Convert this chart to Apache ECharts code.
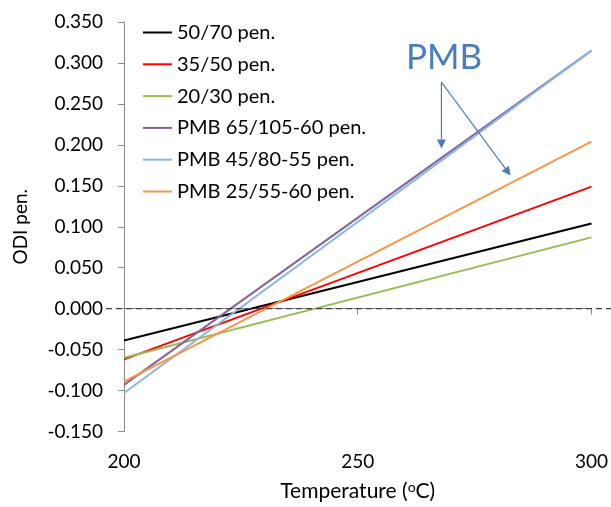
<!DOCTYPE html>
<html><head><meta charset="utf-8">
<script src="https://cdn.jsdelivr.net/npm/echarts@6/dist/echarts.min.js"></script>
<style>html,body{margin:0;padding:0;background:#fff}#c{width:611px;height:507px}</style>
</head><body><div id="c"></div>
<script>
// Data
const temps = [200, 300];
const seriesNames = ['50/70 pen.', '35/50 pen.', '20/30 pen.', 'PMB 65/105-60 pen.', 'PMB 45/80-55 pen.', 'PMB 25/55-60 pen.'];
const v5070 = [-0.039, 0.104];
const v3550 = [-0.062, 0.149];
const v2030 = [-0.060, 0.087];
const vPmb65 = [-0.093, 0.315];
const vPmb45 = [-0.103, 0.315];
const vPmb25 = [-0.089, 0.204];
const colors = ['#000000', '#ff0000', '#9bbb59', '#8064a2', '#8db4e2', '#f79646'];
const yTicks = { min: -0.15, max: 0.35, step: 0.05 };
const xTicks = { min: 200, max: 300, step: 50 };
// annotation anchor (data coords): arrow start and two tips
const arrowStart = [267.9, 0.2765];
const arrowTips = [[267.9, 0.1955], [282.7, 0.1625]];
const pmbLabelPos = [260.3, 0.328];

const FONT = 'Lato';
const allVals = [v5070, v3550, v2030, vPmb65, vPmb45, vPmb25];

const chart = echarts.init(document.getElementById('c'), null, {renderer: 'canvas'});
const axisGray = '#898989';
const option = {
  animation: false,
  color: colors,
  grid: { left: 124, right: 19, top: 22, bottom: 69, containLabel: false },
  legend: {
    orient: 'vertical', left: 138, top: 17.5,
    icon: 'rect', itemWidth: 29, itemHeight: 2, itemGap: 11.8,
    textStyle: { fontFamily: FONT, fontSize: 20, lineHeight: 20, color: '#000' },
    data: seriesNames
  },
  xAxis: {
    type: 'value', min: xTicks.min, max: xTicks.max, interval: xTicks.step,
    name: 'Temperature ({sup|o}C)', nameLocation: 'middle', nameGap: 49,
    nameTextStyle: { fontFamily: FONT, fontSize: 21, color: '#000',
      rich: { sup: { fontFamily: FONT, fontSize: 14, verticalAlign: 'top', padding: [0,0,8,0], color:'#000' } } },
    axisLine: { lineStyle: { color: axisGray } },
    axisTick: { show: true, inside: false, length: 6, lineStyle: { color: axisGray } },
    axisLabel: { fontFamily: FONT, fontSize: 19, color: '#000', margin: 21 },
    splitLine: { show: false }
  },
  yAxis: {
    type: 'value', min: yTicks.min, max: yTicks.max, interval: yTicks.step,
    name: 'ODI pen.', nameLocation: 'middle', nameGap: 94, nameRotate: 90,
    nameTextStyle: { fontFamily: FONT, fontSize: 19, color: '#000' },
    axisLine: { show: true, lineStyle: { color: axisGray } },
    axisTick: { show: true, inside: false, length: 6, lineStyle: { color: axisGray } },
    axisLabel: { fontFamily: FONT, fontSize: 19, color: '#000', margin: 21,
      formatter: v => v.toFixed(3) },
    splitLine: { show: false }
  },
  series: seriesNames.map((n, i) => ({
    name: n, type: 'line', symbol: 'none', showSymbol: false,
    lineStyle: { width: 2, color: colors[i] }, itemStyle: { color: colors[i] },
    data: temps.map((t, j) => [t, allVals[i][j]]), z: 3 + i
  }))
};
chart.setOption(option);

function px(p) { return chart.convertToPixel({gridIndex: 0}, p); }
const zeroY = px([200, 0])[1];
const arrowColor = '#4a7ebb';
const s = px(arrowStart);
const graphics = [
  { type: 'line', z: 20, shape: { x1: 106, y1: zeroY, x2: 611, y2: zeroY },
    style: { stroke: '#404040', lineWidth: 1.3, lineDash: [6, 4] } },
  { type: 'text', z: 20, style: { text: 'PMB', x: px(pmbLabelPos)[0], y: px(pmbLabelPos)[1],
      font: '35px ' + FONT, fill: arrowColor, textAlign: 'left', textVerticalAlign: 'top' } }
];
arrowTips.forEach(tp => {
  const t = px(tp);
  const dx = t[0] - s[0], dy = t[1] - s[1];
  const L = Math.hypot(dx, dy), ux = dx / L, uy = dy / L;
  const hl = 9, hw = 4.5;
  const bx = t[0] - ux * hl, by = t[1] - uy * hl;
  graphics.push({ type: 'line', z: 20, shape: { x1: s[0], y1: s[1], x2: bx, y2: by },
    style: { stroke: arrowColor, lineWidth: 1.2 } });
  graphics.push({ type: 'polygon', z: 20, shape: { points: [
      [t[0], t[1]], [bx - uy * hw, by + ux * hw], [bx + uy * hw, by - ux * hw]] },
    style: { fill: arrowColor } });
});
chart.setOption({ graphic: graphics });
</script></body></html>
